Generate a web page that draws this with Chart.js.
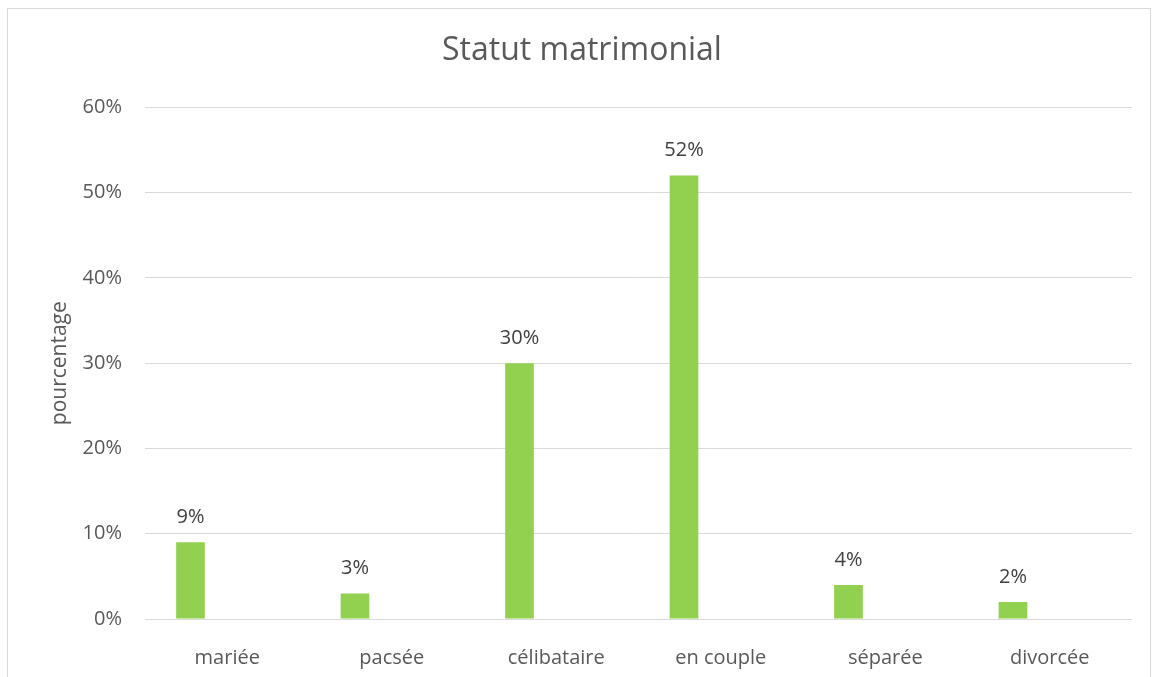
<!DOCTYPE html>
<html>
<head>
<meta charset="utf-8">
<script src="https://cdn.jsdelivr.net/npm/chart.js@4"></script>
<style>
  html, body { margin: 0; padding: 0; background: #fff; }
  #frame { position: absolute; left: 7px; top: 8px; width: 1144px; height: 680px; border: 1px solid #d9d9d9; box-sizing: border-box; }
  #wrap { position: absolute; left: 0; top: 0; width: 1152px; height: 677px; }
</style>
</head>
<body>
<div id="frame"></div>
<div id="wrap"><canvas id="chart" width="1152" height="677"></canvas></div>
<script>
const categories = ['mariée', 'pacsée', 'célibataire', 'en couple', 'séparée', 'divorcée'];
const percentages = [9, 3, 30, 52, 4, 2];
const emptySeries = [null, null, null, null, null, null];
const yTicks = [0, 10, 20, 30, 40, 50, 60];

const textGray = '#595959';
const gridGray = '#d9d9d9';
const barGreen = '#92d050';
const fontFamily = '"Open Sans", sans-serif';

// draws the "9%" etc above each bar
const valueLabels = {
    id: 'valueLabels',
    afterDatasetsDraw(chart) {
        const ctx = chart.ctx;
        const meta = chart.getDatasetMeta(0);
        ctx.save();
        ctx.font = '20px ' + fontFamily;
        ctx.fillStyle = '#404040';
        ctx.textAlign = 'center';
        ctx.textBaseline = 'middle';
        meta.data.forEach((bar, i) => {
            ctx.fillText(percentages[i] + '%', bar.x, bar.y - 25);
        });
        ctx.restore();
    }
};

new Chart(document.getElementById('chart'), {
    type: 'bar',
    data: {
        labels: categories,
        datasets: [
            { data: percentages, backgroundColor: barGreen, categoryPercentage: 0.894, barPercentage: 0.39 },
            { data: emptySeries, backgroundColor: barGreen, categoryPercentage: 0.894, barPercentage: 0.39 }
        ]
    },
    options: {
        responsive: false,
        animation: false,
        layout: { padding: { left: 32, right: 20, top: 0, bottom: 0 } },
        plugins: {
            legend: { display: false },
            tooltip: { enabled: false },
            title: {
                display: true,
                text: 'Statut matrimonial',
                color: textGray,
                font: { family: fontFamily, size: 32, weight: 'normal' },
                padding: { top: 32, bottom: 37 }
            }
        },
        scales: {
            x: {
                grid: { display: false },
                border: { display: false },
                ticks: { color: textGray, font: { family: fontFamily, size: 20 }, padding: 19 },
                afterFit(scale) { scale.height = 58; }
            },
            y: {
                min: 0,
                max: 60,
                afterBuildTicks(scale) { scale.ticks = yTicks.map(v => ({ value: v })); },
                grid: { color: gridGray, lineWidth: 1, drawTicks: false },
                border: { display: false },
                ticks: {
                    color: textGray,
                    font: { family: fontFamily, size: 20 },
                    padding: 23,
                    callback: v => v + '%'
                },
                title: {
                    display: true,
                    text: 'pourcentage',
                    color: textGray,
                    font: { family: fontFamily, size: 21 },
                    padding: { top: 15, bottom: 0 }
                },
                afterFit(scale) { scale.width = 113; }
            }
        }
    },
    plugins: [valueLabels]
});
</script>
</body>
</html>
